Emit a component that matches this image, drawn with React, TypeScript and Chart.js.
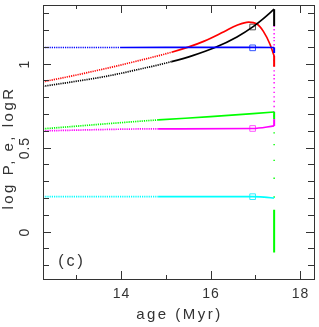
import React, { useEffect, useRef } from "react";
import { Chart, registerables } from "chart.js";

Chart.register(...registerables);

const AGE_RED = [12.26, 12.93, 13.66, 14.4, 15.13, 15.5, 15.86, 16.3, 16.59, 16.85, 17.03, 17.18, 17.33, 17.42];
const RED = [0.892, 0.928, 0.971, 1.018, 1.068, 1.098, 1.134, 1.19, 1.228, 1.247, 1.237, 1.192, 1.114, 1.045];
const RED_END = [1.045, 0.982];

const AGE_BLACK = [12.26, 12.93, 13.66, 14.4, 15.13, 15.6, 16.1, 16.59, 16.96, 17.18, 17.42];
const BLACK = [0.865, 0.892, 0.924, 0.966, 1.012, 1.048, 1.096, 1.159, 1.222, 1.268, 1.324];
const BLACK_END = [1.324, 1.224];

const AGE_BLUE = [12.26, 14.0, 16.0, 17.42];
const BLUE = [1.096, 1.096, 1.097, 1.096];
const BLUE_END = [1.096, 1.064];

const AGE_GREEN = [12.26, 14.83, 16.0, 17.42];
const GREEN = [0.612, 0.665, 0.684, 0.712];
const GREEN_END = [0.712, 0.67];

const AGE_MAGENTA = [12.26, 14.83, 16.94, 17.42];
const MAGENTA = [0.6, 0.612, 0.614, 0.629];
const MAGENTA_END = [0.629, 0.67];

const AGE_CYAN = [12.26, 14.83, 16.94, 17.2, 17.42];
const CYAN = [0.208, 0.208, 0.208, 0.205, 0.2];

const END_AGE = 17.42;
const DOTTED_UNTIL = 15.3;
const MAGENTA_DOTS = [1.222, 1.202, 1.178, 1.155, 1.137, 1.112, 1.094, 1.069, 1.045, 1.019, 0.988, 0.957, 0.931, 0.91, 0.886, 0.857, 0.829, 0.802, 0.775, 0.745, 0.712, 0.688];
const GREEN_DOTS = [0.588, 0.518, 0.424, 0.318, 0.206];
const GREEN_DROP = [0.13, -0.124];

const MARK_AGE = 16.94;
const MARKS = [
  { y: 1.218, color: "#555555" },
  { y: 1.094, color: "#3355ff" },
  { y: 0.614, color: "#ff55ff" },
  { y: 0.208, color: "#33eeff" },
];

const X_MAJOR = [14, 16, 18];
const X_MINOR = [13, 15, 17];
const Y_MAJOR = [0, 0.5, 1];
const Y_MINOR = [-0.2, -0.1, 0.1, 0.2, 0.3, 0.4, 0.6, 0.7, 0.8, 0.9, 1.1, 1.2, 1.3];

const X_MIN = 12.26;
const X_MAX = 18.31;
const Y_MIN = -0.282;
const Y_MAX = 1.349;

const zip = (xs: number[], ys: number[]) => xs.map((x, i) => ({ x, y: ys[i] }));

const seriesDs = (xs: number[], ys: number[], endYs: number[] | null, color: string) => {
  const out: any[] = [
    {
      data: zip(xs, ys),
      showLine: true,
      borderColor: color,
      backgroundColor: color,
      borderWidth: 1.7,
      pointRadius: 0,
      cubicInterpolationMode: "monotone",
      segment: {
        borderColor: () => color,
        borderDash: (ctx: any) => (ctx.p1.parsed.x <= DOTTED_UNTIL ? [1.2, 1] : []),
      },
    },
  ];
  if (endYs) {
    out.push({
      data: endYs.map((y) => ({ x: END_AGE, y })),
      showLine: true,
      borderColor: color,
      backgroundColor: color,
      borderWidth: 2,
      pointRadius: 0,
    });
  }
  return out;
};

const framePlugin = {
  id: "frame",
  afterDraw(chart: any) {
    const { ctx, chartArea: a, scales } = chart;
    const xs = scales.x;
    const ys = scales.y;
    ctx.save();
    ctx.strokeStyle = "#333";
    ctx.lineWidth = 1;
    ctx.strokeRect(a.left + 0.5, a.top + 0.5, a.right - a.left, a.bottom - a.top);
    ctx.beginPath();
    const xt = (v: number, len: number) => {
      const p = Math.round(xs.getPixelForValue(v)) + 0.5;
      ctx.moveTo(p, a.bottom);
      ctx.lineTo(p, a.bottom - len);
      ctx.moveTo(p, a.top);
      ctx.lineTo(p, a.top + len);
    };
    const yt = (v: number, len: number) => {
      const p = Math.round(ys.getPixelForValue(v)) + 0.5;
      ctx.moveTo(a.left, p);
      ctx.lineTo(a.left + len, p);
      ctx.moveTo(a.right, p);
      ctx.lineTo(a.right - len, p);
    };
    X_MAJOR.forEach((v) => xt(v, 8));
    X_MINOR.forEach((v) => xt(v, 4));
    Y_MAJOR.forEach((v) => yt(v, 8));
    Y_MINOR.forEach((v) => yt(v, 6));
    ctx.stroke();

    ctx.fillStyle = "#333";
    ctx.font = "14px 'Liberation Sans'";
    ctx.textAlign = "center";
    ctx.textBaseline = "middle";
    (ctx as any).letterSpacing = "1px";
    X_MAJOR.forEach((v) => {
      ctx.fillText(String(v), xs.getPixelForValue(v) + 0.5, a.bottom + 15);
    });
    Y_MAJOR.forEach((v) => {
      ctx.save();
      ctx.translate(25, ys.getPixelForValue(v) + 0.5);
      ctx.rotate(-Math.PI / 2);
      ctx.fillText(String(v), 0, 0);
      ctx.restore();
    });
    ctx.font = "15px 'Liberation Sans'";
    (ctx as any).letterSpacing = "2.5px";
    ctx.fillText("age (Myr)", (a.left + a.right) / 2 + 1, a.bottom + 36);
    ctx.save();
    ctx.translate(9, 148);
    ctx.rotate(-Math.PI / 2);
    ctx.fillText("log P, e, logR", 0, 0);
    ctx.restore();
    (ctx as any).letterSpacing = "3px";
    ctx.font = "16px 'Liberation Sans'";
    ctx.fillText("(c)", 72, 262);
    ctx.restore();
  },
};

export default function App() {
  const ref = useRef<HTMLCanvasElement>(null);
  useEffect(() => {
    if (!ref.current) return;
    const datasets: any[] = [
      ...seriesDs(AGE_GREEN, GREEN, GREEN_END, "#00ff00"),
      ...seriesDs(AGE_MAGENTA, MAGENTA, MAGENTA_END, "#ff00ff"),
      ...seriesDs(AGE_CYAN, CYAN, null, "#00ffff"),
      ...seriesDs(AGE_BLUE, BLUE, BLUE_END, "#0000ff"),
      ...seriesDs(AGE_BLACK, BLACK, BLACK_END, "#000000"),
      ...seriesDs(AGE_RED, RED, RED_END, "#ff0000"),
      {
        data: MAGENTA_DOTS.map((y) => ({ x: END_AGE, y })),
        showLine: false,
        pointStyle: "rect",
        pointRadius: 1,
        borderWidth: 0,
        backgroundColor: "#ff00ff",
      },
      {
        data: GREEN_DOTS.map((y) => ({ x: END_AGE, y })),
        showLine: false,
        pointStyle: "rect",
        pointRadius: 1,
        borderWidth: 0,
        backgroundColor: "#00ff00",
      },
      {
        data: GREEN_DROP.map((y) => ({ x: END_AGE, y })),
        showLine: true,
        borderColor: "#00ff00",
        borderWidth: 2,
        pointRadius: 0,
      },
      ...MARKS.map((m) => ({
        data: [{ x: MARK_AGE, y: m.y }],
        showLine: false,
        pointStyle: "rect",
        pointRadius: 4,
        borderWidth: 1,
        borderColor: m.color,
        backgroundColor: "rgba(0,0,0,0)",
      })),
    ];
    const chart = new Chart(ref.current, {
      type: "scatter",
      data: { datasets },
      options: {
        responsive: false,
        animation: false,
        layout: { padding: { left: 43, top: 2, right: 2, bottom: 48 } },
        plugins: { legend: { display: false }, tooltip: { enabled: false } },
        scales: {
          x: { type: "linear", display: false, min: X_MIN, max: X_MAX },
          y: { type: "linear", display: false, min: Y_MIN, max: Y_MAX },
        },
      },
      plugins: [framePlugin],
    });
    return () => chart.destroy();
  }, []);
  return (
    <div style={{ position: "fixed", left: 0, top: 0, width: 319, height: 327, background: "#fff" }}>
      <canvas ref={ref} width={319} height={327} style={{ display: "block" }} />
    </div>
  );
}
